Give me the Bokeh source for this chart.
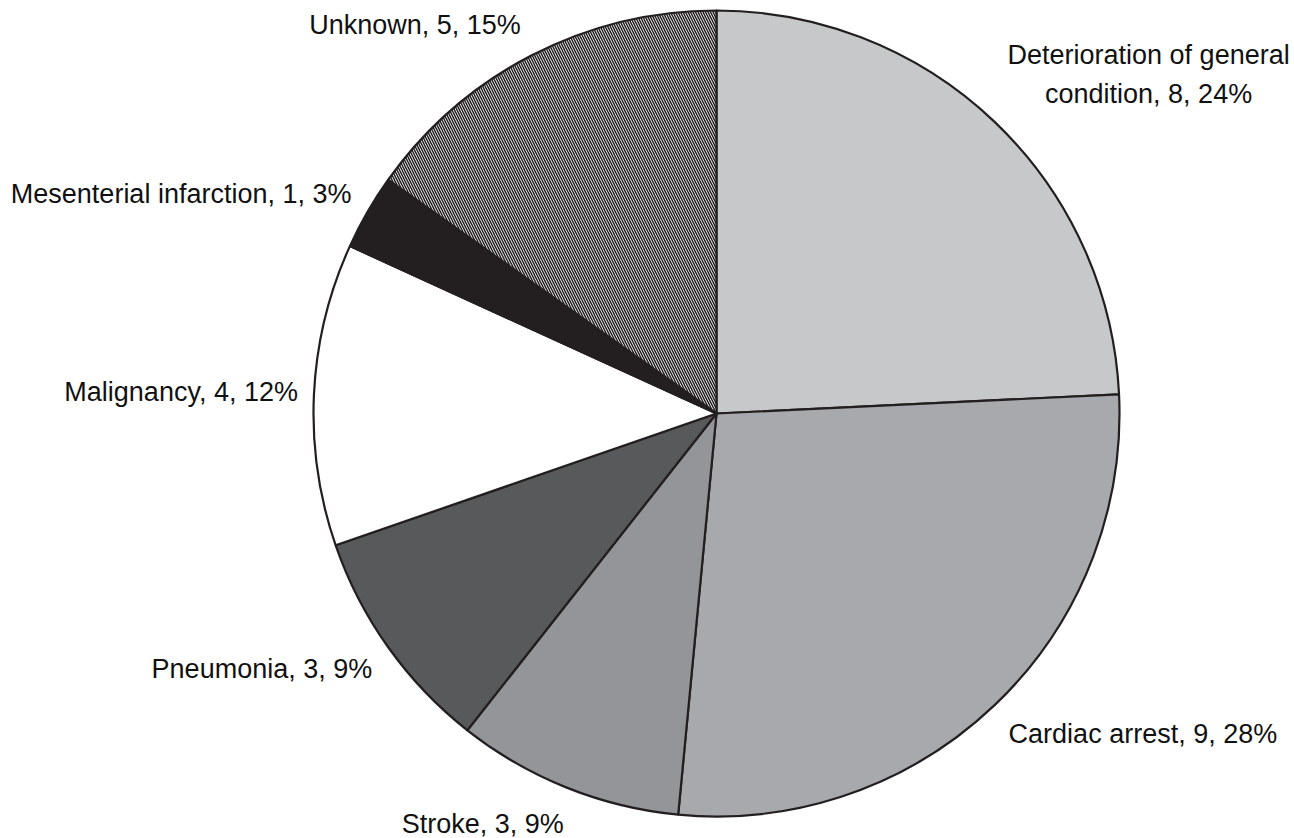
import math
from bokeh.plotting import figure
from bokeh.models import Range1d, ColumnDataSource
from bokeh.core.properties import value
from bokeh.embed import file_html
from bokeh.resources import INLINE

# ---- data ----
causes = ["Deterioration of general\ncondition", "Cardiac arrest", "Stroke", "Pneumonia",
          "Malignancy", "Mesenterial infarction", "Unknown"]
counts = [8, 9, 3, 3, 4, 1, 5]
percents = [24, 28, 9, 9, 12, 3, 15]

# ---- styles ----
fills = ["#c7c8ca", "#a7a9ac", "#939598", "#58595b", "#ffffff", "#231f20", "#ffffff"]
hatches = [" ", " ", " ", " ", " ", " ", "\\"]
# label offsets in pixels from the outer arc point at each slice's mid angle (dx right, dy down)
label_dx = [154, 14, -3, -16, -16, -16, -11]
label_dy = [-47, 29, 36, 22, -2, -18, -30]
label_align = ["center", "left", "right", "right", "right", "right", "right"]
label_base = ["middle", "alphabetic", "alphabetic", "alphabetic", "alphabetic", "alphabetic", "alphabetic"]

W, H = 1294, 838
cx, cy, R = 716, 425, 403

p = figure(width=W, height=H, output_backend="svg", toolbar_location=None,
           x_range=Range1d(0, W), y_range=Range1d(0, H), min_border=0)
p.axis.visible = False
p.grid.visible = False
p.outline_line_color = None
p.background_fill_color = "white"

total = sum(counts)
starts, ends, lx, ly, texts = [], [], [], [], []
cum = 0
for i, c in enumerate(counts):
    a0 = math.pi / 2 - 2 * math.pi * cum / total
    a1 = math.pi / 2 - 2 * math.pi * (cum + c) / total
    mid = 2 * math.pi * (cum + c / 2) / total
    starts.append(a0)
    ends.append(a1)
    ax = cx + R * math.sin(mid)
    ay = cy + R * math.cos(mid)
    lx.append(ax + label_dx[i])
    ly.append(ay - label_dy[i])
    texts.append(f"{causes[i]}, {c}, {percents[i]}%")
    cum += c

src = ColumnDataSource(dict(start=starts, end=ends, fill=fills, hatch=hatches))
p.wedge(x=cx, y=cy, radius=R, start_angle="start", end_angle="end", direction="clock",
        fill_color="fill", line_color="#231f20", line_width=2.2, source=src,
        hatch_pattern="hatch", hatch_color="#231f20", hatch_scale=5, hatch_weight=1.5)

for i in range(len(texts)):
    p.text(x=[lx[i]], y=[ly[i]], text=[texts[i]], text_font=value("Liberation Sans"),
           text_font_size="27px", text_color="#111111", text_align=label_align[i],
           text_baseline=label_base[i], text_line_height=1.3)

open("out.html", "w").write(file_html(p, INLINE))
